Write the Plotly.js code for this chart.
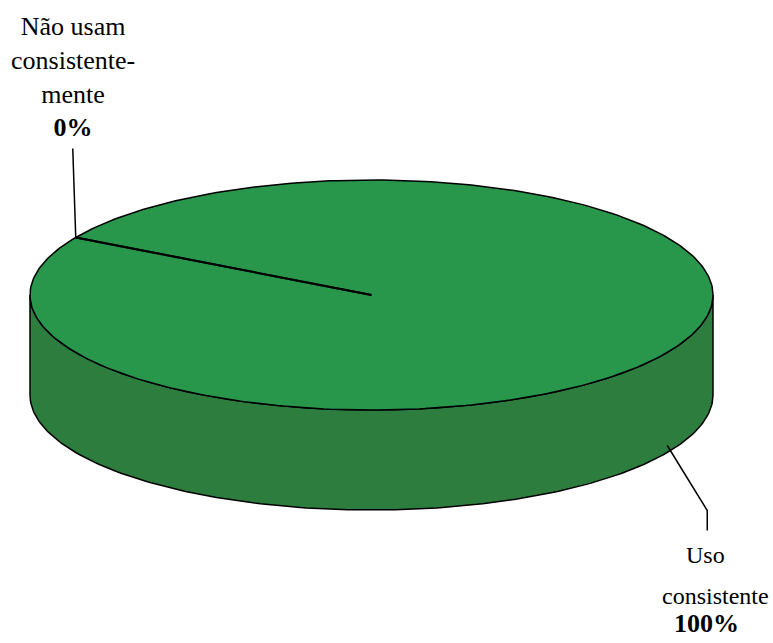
<!DOCTYPE html>
<html>
<head>
<meta charset="utf-8">
<script src="https://cdn.plot.ly/plotly-3.0.1.min.js"></script>
<style>html,body{margin:0;padding:0;background:#fff;}#chart{width:773px;height:643px;}
#chart text{font-family:'Liberation Serif' !important;}</style>
</head>
<body>
<div id="chart"></div>
<script>
// ---- data ----
const categories = ["Não usam consistentemente", "Uso consistente"];
const values = [0, 100];
const labelLines = [["Não usam", "consistente-", "mente"], ["Uso", "consistente"]];

// ---- styling / geometry ----
const topColor = "#28974b";
const sideColor = "#2c7d3e";
const cx = 371.5, cy = 295, rx = 341.5, ry = 115, depth = 100;
const startAngle = 150; // degrees, slices run clockwise
const total = values.reduce((a, b) => a + b, 0);
const serifFamily = "Liberation Serif";

function pt(deg, dy) {
  const r = deg * Math.PI / 180;
  return [cx + rx * Math.cos(r), cy - ry * Math.sin(r) + (dy || 0)];
}
function arc(a0, a1, dy, n) {
  const xs = [], ys = [];
  for (let i = 0; i <= n; i++) {
    const p = pt(a0 + (a1 - a0) * i / n, dy);
    xs.push(p[0]); ys.push(p[1]);
  }
  return [xs, ys];
}

const traces = [];
// side band (visible front half: 180..360)
const sTop = arc(180, 360, 0, 180);
const sBot = arc(360, 180, depth, 180);
traces.push({
  x: sTop[0].concat(sBot[0], [sTop[0][0]]),
  y: sTop[1].concat(sBot[1], [sTop[1][0]]),
  mode: "lines", fill: "toself", fillcolor: sideColor,
  line: {color: "#000", width: 1.5}, hoverinfo: "skip"
});
// top faces of slices
let acc = 0;
const sliceMid = [];
values.forEach((v, i) => {
  const a0 = startAngle - 360 * acc / total;
  const a1 = startAngle - 360 * (acc + v) / total;
  sliceMid.push((a0 + a1) / 2);
  if (v > 0) {
    const a = arc(a0, a1, 0, 360);
    let xs = a[0], ys = a[1];
    if (v < total) { xs = [cx].concat(xs, [cx]); ys = [cy].concat(ys, [cy]); }
    traces.push({x: xs, y: ys, mode: "lines", fill: "toself", fillcolor: topColor,
      line: {color: "#000", width: 1.5}, hoverinfo: "skip"});
  }
  acc += v;
});
// slice boundary radial lines
acc = 0;
values.forEach((v, i) => {
  const a = startAngle - 360 * acc / total;
  const p = pt(a, 0);
  traces.push({x: [cx, p[0]], y: [cy, p[1]], mode: "lines",
    line: {color: "#000", width: 2}, hoverinfo: "skip"});
  acc += v;
});

// leader lines + labels
const annotations = [];
values.forEach((v, i) => {
  const pctTxt = Math.round(100 * v / total) + "%";
  const mid = sliceMid[i];
  const onBack = Math.sin(mid * Math.PI / 180) > 0;
  if (onBack) {
    const p = pt(mid, 0);
    const q = [p[0] - 3, p[1] - 89];
    traces.push({x: [p[0], q[0]], y: [p[1], q[1]], mode: "lines",
      line: {color: "#000", width: 1.5}, hoverinfo: "skip"});
    annotations.push({x: q[0], y: q[1] - 5, xref: "x", yref: "y", xanchor: "center", yanchor: "bottom",
      showarrow: false, align: "center",
      text: labelLines[i].join("<br>") + "<br><b>" + pctTxt + "</b>",
      font: {family: serifFamily, size: 26, color: "#000"}});
  } else {
    const p = pt(mid, depth - 7);
    const k = [p[0] + 40, p[1] + 65];
    const e = [k[0], k[1] + 20];
    traces.push({x: [p[0], k[0], e[0]], y: [p[1], k[1], e[1]], mode: "lines",
      line: {color: "#000", width: 1.5}, hoverinfo: "skip"});
    const lines = labelLines[i].concat(["<b>" + pctTxt + "</b>"]);
    const offs = [24, 65, 93];
    const dx = [-2, 8, -1];
    lines.forEach((t, j) => {
      annotations.push({x: e[0] + dx[j], y: e[1] + offs[j], xref: "x", yref: "y",
        xanchor: "center", yanchor: "middle", showarrow: false,
        text: t, font: {family: serifFamily, size: (j === 2 ? 26 : 24), color: "#000"}});
    });
  }
});

const layout = {
  width: 773, height: 643,
  margin: {l: 0, r: 0, t: 0, b: 0},
  paper_bgcolor: "#fff", plot_bgcolor: "#fff",
  font: {family: serifFamily, color: "#000"},
  showlegend: false,
  xaxis: {range: [0, 773], visible: false, fixedrange: true},
  yaxis: {range: [643, 0], visible: false, fixedrange: true},
  annotations: annotations
};
function draw() {
  Plotly.newPlot("chart", traces.map(t => Object.assign({type: "scatter"}, t)), layout, {displayModeBar: false, staticPlot: true});
}
if (document.fonts && document.fonts.load) {
  Promise.all([
    document.fonts.load('26px "Liberation Serif"'),
    document.fonts.load('bold 26px "Liberation Serif"')
  ]).then(draw, draw);
} else { draw(); }
</script>
</body>
</html>
